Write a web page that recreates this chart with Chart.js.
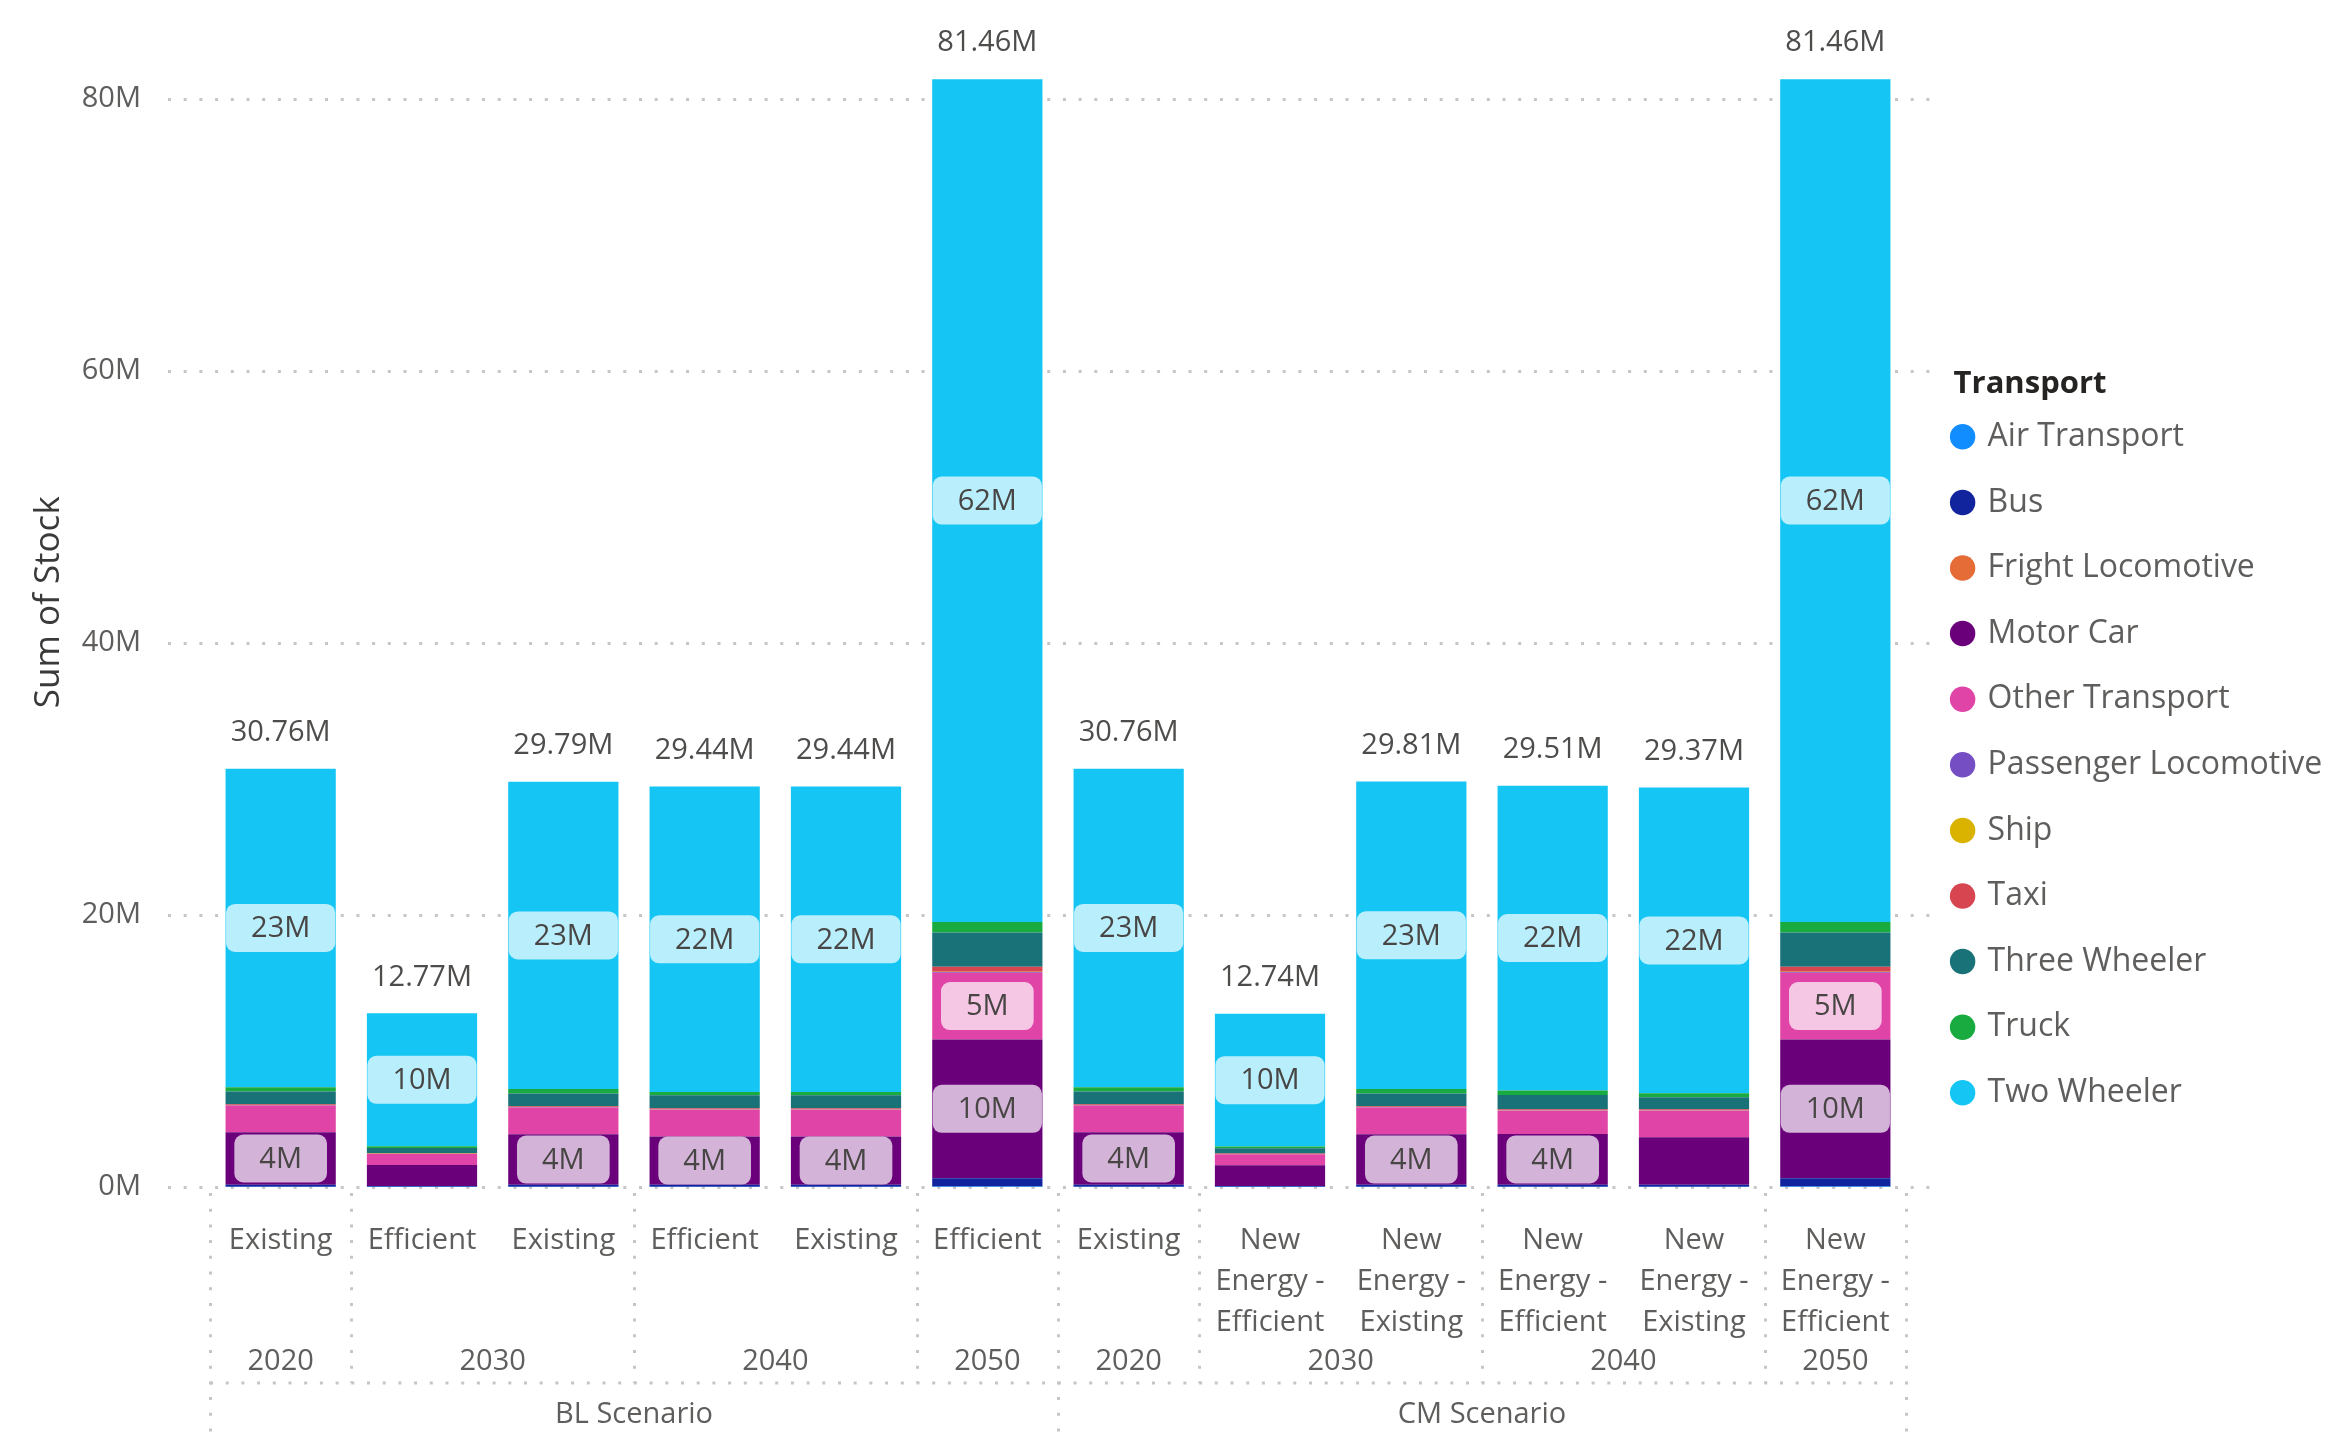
<!DOCTYPE html>
<html>
<head>
<meta charset="utf-8">
<script src="https://cdn.jsdelivr.net/npm/chart.js@4/dist/chart.umd.min.js"></script>
<style>
html,body{margin:0;padding:0;background:#fff;}
#wrap{width:2336px;height:1440px;position:relative;}
</style>
</head>
<body>
<div id="wrap"><canvas id="c"></canvas></div>
<script>
// ---------- DATA (values in millions) ----------
const scenarios = ["BL Scenario","BL Scenario","BL Scenario","BL Scenario","BL Scenario","BL Scenario",
                   "CM Scenario","CM Scenario","CM Scenario","CM Scenario","CM Scenario","CM Scenario"];
const years = ["2020","2030","2030","2040","2040","2050","2020","2030","2030","2040","2040","2050"];
const measures = [["Existing"],["Efficient"],["Existing"],["Efficient"],["Existing"],["Efficient"],
                  ["Existing"],["New","Energy -","Efficient"],["New","Energy -","Existing"],
                  ["New","Energy -","Efficient"],["New","Energy -","Existing"],["New","Energy -","Efficient"]];

const seriesNames = ["Air Transport","Bus","Fright Locomotive","Motor Car","Other Transport",
                     "Passenger Locomotive","Ship","Taxi","Three Wheeler","Truck","Two Wheeler"];
const seriesColors = ["#118DFF","#12239E","#E66C37","#6B007B","#E044A7",
                      "#744EC2","#D9B300","#D64550","#197278","#1AAB40","#15C6F4"];
const labelTints = ["#B8DDFF","#B8BDD8","#F8D3C3","#D3B3D7","#F6C7E5",
                    "#D5CAED","#F4E8B3","#F3C7CA","#BAD5D6","#BAE6C6","#B9EEFC"];

const airTransport        = [0.01,0.01,0.01,0.01,0.01,0.03,0.01,0.01,0.01,0.01,0.01,0.03];
const bus                 = [0.15,0.06,0.15,0.15,0.15,0.61,0.15,0.06,0.15,0.15,0.15,0.61];
const frightLocomotive    = [0.01,0.01,0.01,0.01,0.01,0.01,0.01,0.01,0.01,0.01,0.01,0.01];
const motorCar            = [3.85,1.54,3.70,3.55,3.55,10.20,3.85,1.52,3.70,3.72,3.48,10.20];
const otherTransport      = [1.95,0.80,1.95,1.96,1.96,4.90,1.95,0.80,1.95,1.72,1.96,4.90];
const passengerLocomotive = [0.02,0.01,0.02,0.02,0.02,0.05,0.02,0.01,0.02,0.02,0.02,0.05];
const ship                = [0.01,0.01,0.01,0.01,0.01,0.02,0.01,0.01,0.01,0.01,0.01,0.02];
const taxi                = [0.08,0.04,0.08,0.08,0.08,0.37,0.08,0.04,0.08,0.08,0.08,0.37];
const threeWheeler        = [0.95,0.39,0.95,0.95,0.95,2.52,0.95,0.39,0.95,1.05,0.88,2.52];
const truck               = [0.30,0.12,0.32,0.25,0.25,0.78,0.30,0.12,0.32,0.32,0.29,0.78];
const twoWheeler          = [23.43,9.78,22.59,22.45,22.45,61.97,23.43,9.77,22.61,22.42,22.48,61.97];

const seriesValues = [airTransport,bus,frightLocomotive,motorCar,otherTransport,
                      passengerLocomotive,ship,taxi,threeWheeler,truck,twoWheeler];

const yAxisTitle = "Sum of Stock";
const legendTitle = "Transport";
const yMax = 86;
const yStep = 20;
const segmentLabelMin = 3.5;

// ---------- STYLE ----------
const FONT = "'Open Sans', 'Noto Sans', 'DejaVu Sans', sans-serif";
const TEXT = "#605E5C";
const GRID = "#C8C6C4";

const datasets = seriesNames.map((n, i) => ({
  label: n,
  data: seriesValues[i],
  backgroundColor: seriesColors[i],
  borderWidth: 0,
  categoryPercentage: 1.0,
  barPercentage: 0.78
}));

function dotted(ctx){ ctx.strokeStyle = GRID; ctx.lineWidth = 3; ctx.setLineDash([3, 12.7]); }

const gridPlugin = {
  id: 'dottedGrid',
  beforeDatasetsDraw(chart) {
    const {ctx, chartArea, scales: {y}} = chart;
    ctx.save(); dotted(ctx);
    y.ticks.forEach(t => {
      const py = Math.round(y.getPixelForValue(t.value)) + 0.5;
      ctx.beginPath(); ctx.moveTo(chartArea.left - 42, py); ctx.lineTo(chartArea.right + 34, py); ctx.stroke();
    });
    ctx.restore();
  }
};

const labelPlugin = {
  id: 'segLabels',
  afterDatasetsDraw(chart) {
    const {ctx, scales: {y}} = chart;
    ctx.save();
    ctx.font = `29px ${FONT}`;
    ctx.textAlign = 'center'; ctx.textBaseline = 'middle';
    chart.data.datasets.forEach((ds, di) => {
      const meta = chart.getDatasetMeta(di);
      meta.data.forEach((el, i) => {
        const v = ds.data[i];
        if (v < segmentLabelMin) return;
        const txt = Math.round(v) + 'M';
        const cy = (el.y + el.base) / 2;
        const w = ctx.measureText(txt).width + 50, h = 48;
        ctx.fillStyle = labelTints[di];
        ctx.beginPath(); ctx.roundRect(el.x - w / 2, cy - h / 2, w, h, 9); ctx.fill();
        ctx.fillStyle = '#484644';
        ctx.fillText(txt, el.x, cy + 1);
      });
    });
    // totals
    ctx.fillStyle = '#4f4d4b';
    const n = chart.data.labels.length;
    const meta0 = chart.getDatasetMeta(0);
    for (let i = 0; i < n; i++) {
      const total = chart.data.datasets.reduce((s, ds) => s + ds.data[i], 0);
      const py = y.getPixelForValue(total);
      ctx.fillText(total.toFixed(2) + 'M', meta0.data[i].x, py - 36);
    }
    ctx.restore();
  }
};

const groupPlugin = {
  id: 'groupAxis',
  afterDraw(chart) {
    const {ctx, chartArea, scales: {x}} = chart;
    const n = years.length;
    const bound = i => i <= 0 ? chartArea.left : (i >= n ? chartArea.right : (x.getPixelForValue(i - 1) + x.getPixelForValue(i)) / 2);
    const yTop = 1193, yRow = 1383, yBottom = 1436;
    const yearY = 1362, scenY = 1415;
    ctx.save();
    dotted(ctx);
    ctx.beginPath(); ctx.moveTo(chartArea.left, yRow); ctx.lineTo(chartArea.right, yRow); ctx.stroke();
    for (let i = 0; i <= n; i++) {
      const scenEdge = (i === 0 || i === n || scenarios[i] !== scenarios[i - 1]);
      const yearEdge = scenEdge || years[i] !== years[i - 1];
      if (!yearEdge) continue;
      const px = Math.round(bound(i)) + 0.5;
      ctx.beginPath(); ctx.moveTo(px, yTop); ctx.lineTo(px, scenEdge ? yBottom : yRow); ctx.stroke();
    }
    ctx.setLineDash([]);
    ctx.fillStyle = TEXT; ctx.font = `29px ${FONT}`;
    ctx.textAlign = 'center'; ctx.textBaseline = 'middle';
    let s = 0;
    for (let i = 1; i <= n; i++) {
      if (i === n || years[i] !== years[s] || scenarios[i] !== scenarios[s]) {
        ctx.fillText(years[s], (bound(s) + bound(i)) / 2, yearY);
        s = i;
      }
    }
    s = 0;
    for (let i = 1; i <= n; i++) {
      if (i === n || scenarios[i] !== scenarios[s]) {
        ctx.fillText(scenarios[s], (bound(s) + bound(i)) / 2, scenY);
        s = i;
      }
    }
    ctx.restore();
  }
};

const legendPatch = {
  id: 'legendPatch',
  beforeLayout(chart) {
    const lg = chart.legend;
    if (!lg || lg._patched) return;
    lg._patched = true;
    const fit = lg.fit, draw = lg._draw, drawTitle = lg.drawTitle;
    lg.fit = function () { fit.call(this); this.width = 430; };
    lg._draw = function () { const l = this.left; this.left = l + 14; draw.call(this); this.left = l; };
    lg.drawTitle = function () { const l = this.left; this.left = l + this.options.labels.padding; drawTitle.call(this); this.left = l; };
  }
};

new Chart(document.getElementById('c'), {
  type: 'bar',
  data: { labels: measures, datasets },
  options: {
    responsive: true,
    maintainAspectRatio: false,
    animation: false,
    layout: { padding: { top: 16, right: 0, bottom: 0, left: 0 } },
    plugins: {
      tooltip: { enabled: false },
      legend: {
        position: 'right',
        align: 'start',
        labels: {
          usePointStyle: true,
          pointStyle: 'circle',
          boxWidth: 18,
          boxHeight: 18,
          padding: 33.6,
          color: TEXT,
          font: { family: FONT, size: 32 }
        },
        title: {
          display: true,
          text: legendTitle,
          position: 'start',
          color: '#252423',
          font: { family: FONT, size: 31, weight: 'bold' },
          padding: { top: 353, bottom: -19 }
        }
      }
    },
    scales: {
      x: {
        stacked: true,
        offset: true,
        grid: { display: false, drawTicks: false },
        border: { display: false },
        ticks: {
          autoSkip: false, maxRotation: 0, minRotation: 0,
          padding: 33, color: TEXT,
          font: { family: FONT, size: 29, lineHeight: 1.42 }
        },
        afterFit: s => { s.height = 253; }
      },
      y: {
        stacked: true,
        min: 0, max: yMax,
        grid: { display: false, drawTicks: true, tickLength: 69 },
        border: { display: false },
        ticks: {
          stepSize: yStep, includeBounds: false,
          padding: 0, color: TEXT,
          font: { family: FONT, size: 29 },
          callback: v => v + 'M'
        },
        title: {
          display: true, text: yAxisTitle, color: '#3B3A39',
          font: { family: FONT, size: 35 },
          padding: { top: 28, bottom: 0 }
        },
        afterFit: s => { s.width = 210; }
      }
    }
  },
  plugins: [legendPatch, gridPlugin, labelPlugin, groupPlugin]
});
</script>
</body>
</html>
